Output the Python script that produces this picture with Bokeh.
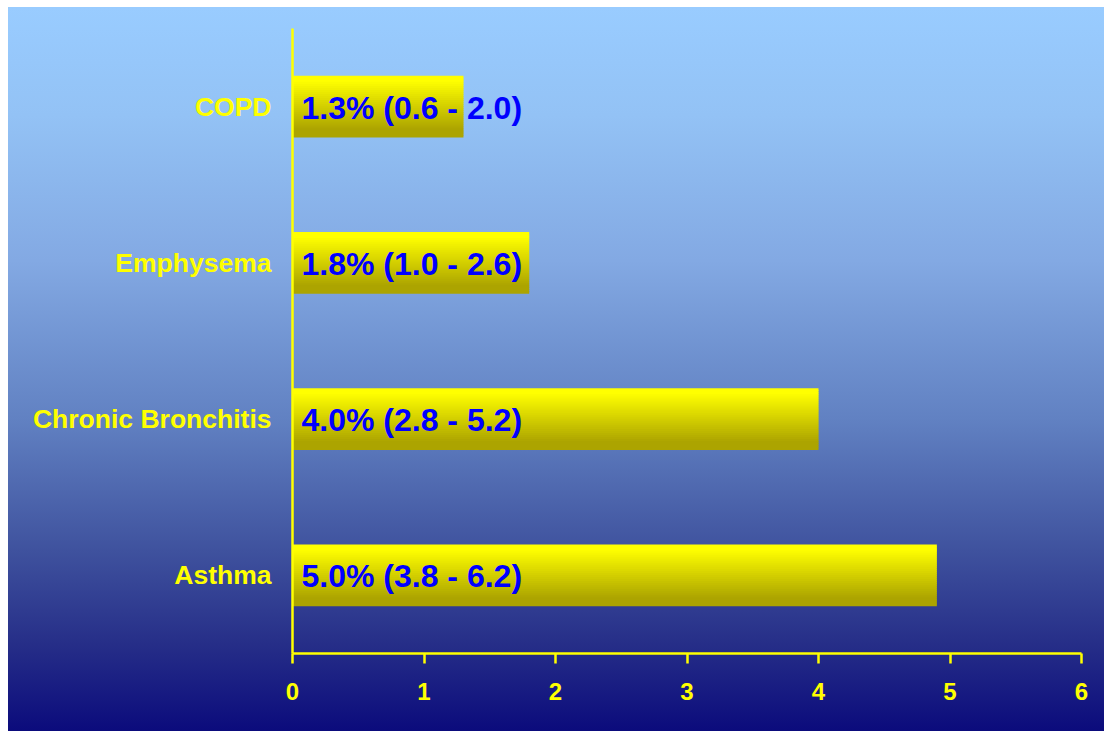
from bokeh.plotting import figure
from bokeh.models import FactorRange, Range1d, FixedTicker, ColumnDataSource
from bokeh.transform import dodge
from bokeh.core.properties import value
from bokeh.embed import file_html
from bokeh.resources import INLINE

# ---- data ----
categories = ["COPD", "Emphysema", "Chronic Bronchitis", "Asthma"]
values = [1.3, 1.8, 4.0, 4.9]
bar_labels = ["1.3% (0.6 - 2.0)", "1.8% (1.0 - 2.6)", "4.0% (2.8 - 5.2)", "5.0% (3.8 - 6.2)"]
x_ticks = [0, 1, 2, 3, 4, 5, 6]

FONT = "Liberation Sans"
YELLOW = "#FFFF00"

p = figure(
    width=1096, height=724,
    y_range=FactorRange(*list(reversed(categories))),
    x_range=Range1d(0, 6),
    output_backend="svg", toolbar_location=None,
    min_border_left=284, min_border_right=23, min_border_top=21, min_border_bottom=78,
)
p.background_fill_color = None
p.border_fill_color = None
p.outline_line_color = None
p.styles = {
    "margin-left": "8px",
    "margin-top": "7px",
    "background": "linear-gradient(to bottom, #99CCFF 0%, #93C2F5 15%, #83A9E3 35%, #6181C2 57%, #3F529E 75%, #262E88 88%, #0B0B7C 100%)",
}
p.xgrid.visible = False
p.ygrid.visible = False

src = ColumnDataSource(dict(cat=categories, val=values, lab=bar_labels))

# gradient bars built from thin horizontal strips
bar_h = 0.39
n = 30
top_c = (255, 255, 0)
bot_c = (172, 164, 0)
sh = bar_h / n
for i in range(n):
    t = (i + 0.5) / n
    tt = min(max((t - 0.08) / 0.8, 0.0), 1.0)
    col = tuple(int(round(top_c[k] + (bot_c[k] - top_c[k]) * tt)) for k in range(3))
    off = bar_h / 2 - sh * (i + 0.5)
    p.hbar(y=dodge("cat", off, range=p.y_range), right="val", left=0,
           height=sh * 1.4, source=src,
           fill_color="#%02X%02X%02X" % col, line_color=None)

p.text(x=0, y="cat", text="lab", source=src, x_offset=9, y_offset=1,
       text_align="left", text_baseline="middle",
       text_font=value(FONT), text_font_style="bold", text_font_size="32px",
       text_color="#0000FF")

# axes
p.xaxis.ticker = FixedTicker(ticks=x_ticks)
p.xaxis.axis_line_color = YELLOW
p.xaxis.axis_line_width = 2.5
p.xaxis.major_tick_line_color = YELLOW
p.xaxis.major_tick_line_width = 2.5
p.xaxis.major_tick_out = 10
p.xaxis.major_tick_in = 0
p.xaxis.minor_tick_line_color = None
p.xaxis.major_label_standoff = 19
p.xaxis.major_label_text_color = YELLOW
p.xaxis.major_label_text_font = FONT
p.xaxis.major_label_text_font_style = "bold"
p.xaxis.major_label_text_font_size = "24px"

p.yaxis.axis_line_color = YELLOW
p.yaxis.axis_line_width = 2.5
p.yaxis.major_tick_line_color = None
p.yaxis.major_tick_out = 0
p.yaxis.major_tick_in = 0
p.yaxis.major_label_standoff = 21
p.yaxis.major_label_text_color = YELLOW
p.yaxis.major_label_text_font = FONT
p.yaxis.major_label_text_font_style = "bold"
p.yaxis.major_label_text_font_size = "26.5px"

open("out.html", "w").write(file_html(p, INLINE))
